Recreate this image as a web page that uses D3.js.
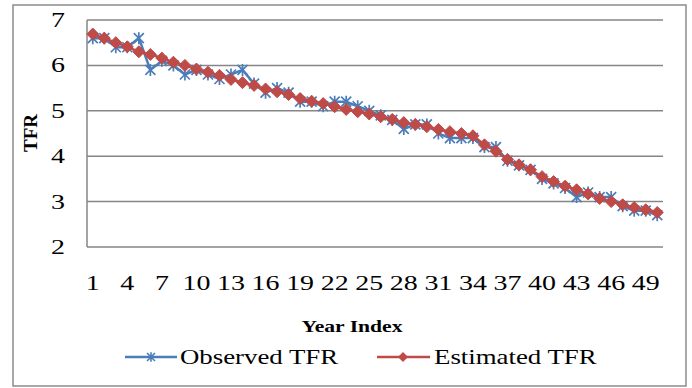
<!DOCTYPE html>
<html>
<head>
<meta charset="utf-8">
<script src="https://cdn.jsdelivr.net/npm/d3@7"></script>
<style>
  body { margin: 0; background: #fff; }
  text { font-family: "Liberation Serif", "Times New Roman", serif; }
</style>
</head>
<body>
<script>
// data
var yearIndex = d3.range(1, 51);
var observedTFR = [6.6,6.6,6.4,6.4,6.6,5.9,6.1,6.0,5.8,5.9,5.8,5.7,5.8,5.9,5.6,5.4,5.5,5.4,5.2,5.2,
                   5.1,5.2,5.2,5.1,5.0,4.9,4.8,4.6,4.7,4.7,4.5,4.4,4.4,4.4,4.2,4.2,3.9,3.8,3.7,3.5,
                   3.4,3.3,3.1,3.2,3.1,3.1,2.9,2.8,2.8,2.7];
var estimatedTFR = [6.69,6.60,6.50,6.41,6.30,6.24,6.16,6.07,6.00,5.92,5.85,5.78,5.69,5.62,5.56,5.48,5.42,5.36,5.27,5.21,
                    5.16,5.09,5.03,4.98,4.93,4.87,4.81,4.74,4.70,4.65,4.59,4.54,4.50,4.45,4.25,4.11,3.93,3.81,3.70,3.55,
                    3.44,3.34,3.26,3.17,3.07,3.00,2.93,2.87,2.82,2.76];
var yTicks = [2, 3, 4, 5, 6, 7];
var xTickLabels = yearIndex.filter(function(d){ return (d - 1) % 3 === 0; });

var width = 692, height = 388;
var plotLeft = 87, plotRight = 663, plotTop = 20, plotBottom = 247;
var blue = "#4a7ebb", red = "#be4b48", grid = "#868686";

var svg = d3.select("body").append("svg").attr("width", width).attr("height", height);

// outer frame
svg.append("rect").attr("x", 13).attr("y", 5).attr("width", 673).attr("height", 381)
   .attr("fill", "#fff").attr("stroke", "#8c8c8c").attr("stroke-width", 1.5);

var scaleX = d3.scaleBand().domain(yearIndex).range([plotLeft, plotRight]);
var scaleY = d3.scaleLinear().domain([2, 7]).range([plotBottom, plotTop]);
var cx = function(d){ return scaleX(d) + scaleX.bandwidth() / 2; };

// the reference text is a little wider than plain Times
function wideText(g, x, y, size, anchor, str, bold, stretch){
  return g.append("text")
    .attr("transform", "translate(" + x + "," + y + ") scale(" + (stretch || 1.27) + ",1)")
    .attr("text-anchor", anchor).attr("font-size", size + "px")
    .attr("font-weight", bold ? "bold" : "normal").text(str);
}

// gridlines
svg.append("g").selectAll("line").data(yTicks).enter().append("line")
   .attr("x1", plotLeft).attr("x2", plotRight)
   .attr("y1", function(d){ return scaleY(d); }).attr("y2", function(d){ return scaleY(d); })
   .attr("stroke", grid).attr("stroke-width", 1.5);
// left axis
svg.append("line").attr("x1", plotLeft).attr("x2", plotLeft).attr("y1", plotTop).attr("y2", plotBottom)
   .attr("stroke", grid).attr("stroke-width", 1.5);

// tick labels
var yLab = svg.append("g");
yTicks.forEach(function(d){ wideText(yLab, 65, scaleY(d) + 7, 22, "end", d); });
var xLab = svg.append("g");
xTickLabels.forEach(function(d){ wideText(xLab, cx(d), 290, 22, "middle", d); });

// axis titles
wideText(svg, 352, 332, 17, "middle", "Year Index", true);
svg.append("text").attr("transform", "translate(37,133) rotate(-90)").attr("text-anchor", "middle")
   .attr("font-size", "19px").attr("font-weight", "bold").text("TFR");

// marker shapes
function starPath(s){
  return "M" + (-s) + "," + (-s) + "L" + s + "," + s +
         "M" + (-s) + "," + s + "L" + s + "," + (-s) +
         "M0," + (-s * 1.2) + "L0," + (s * 1.2);
}
function diamondPath(s){
  return "M0," + (-s) + "L" + s + ",0L0," + s + "L" + (-s) + ",0Z";
}

var line = d3.line().x(function(d, i){ return cx(yearIndex[i]); }).y(function(d){ return scaleY(d); });

// observed series
svg.append("path").datum(observedTFR).attr("d", line)
   .attr("fill", "none").attr("stroke", blue).attr("stroke-width", 2.5);
svg.append("g").selectAll("path").data(observedTFR).enter().append("path")
   .attr("transform", function(d, i){ return "translate(" + cx(yearIndex[i]) + "," + scaleY(d) + ")"; })
   .attr("d", starPath(5)).attr("stroke", blue).attr("stroke-width", 1.7).attr("fill", "none");

// estimated series
svg.append("path").datum(estimatedTFR).attr("d", line)
   .attr("fill", "none").attr("stroke", red).attr("stroke-width", 2.5);
svg.append("g").selectAll("path").data(estimatedTFR).enter().append("path")
   .attr("transform", function(d, i){ return "translate(" + cx(yearIndex[i]) + "," + scaleY(d) + ")"; })
   .attr("d", diamondPath(6)).attr("fill", red).attr("stroke", red).attr("stroke-width", 1);

// legend
var legend = svg.append("g");
legend.append("line").attr("x1", 125).attr("x2", 177).attr("y1", 357).attr("y2", 357)
      .attr("stroke", blue).attr("stroke-width", 2.5);
legend.append("path").attr("transform", "translate(151,357)").attr("d", starPath(4))
      .attr("stroke", blue).attr("stroke-width", 1.6).attr("fill", "none");
wideText(legend, 180, 364, 22, "start", "Observed TFR", false, 1.22);
legend.append("line").attr("x1", 377).attr("x2", 430).attr("y1", 357).attr("y2", 357)
      .attr("stroke", red).attr("stroke-width", 2.5);
legend.append("path").attr("transform", "translate(403,357)").attr("d", diamondPath(5))
      .attr("fill", red);
wideText(legend, 434, 364, 22, "start", "Estimated TFR", false, 1.22);
</script>
</body>
</html>
